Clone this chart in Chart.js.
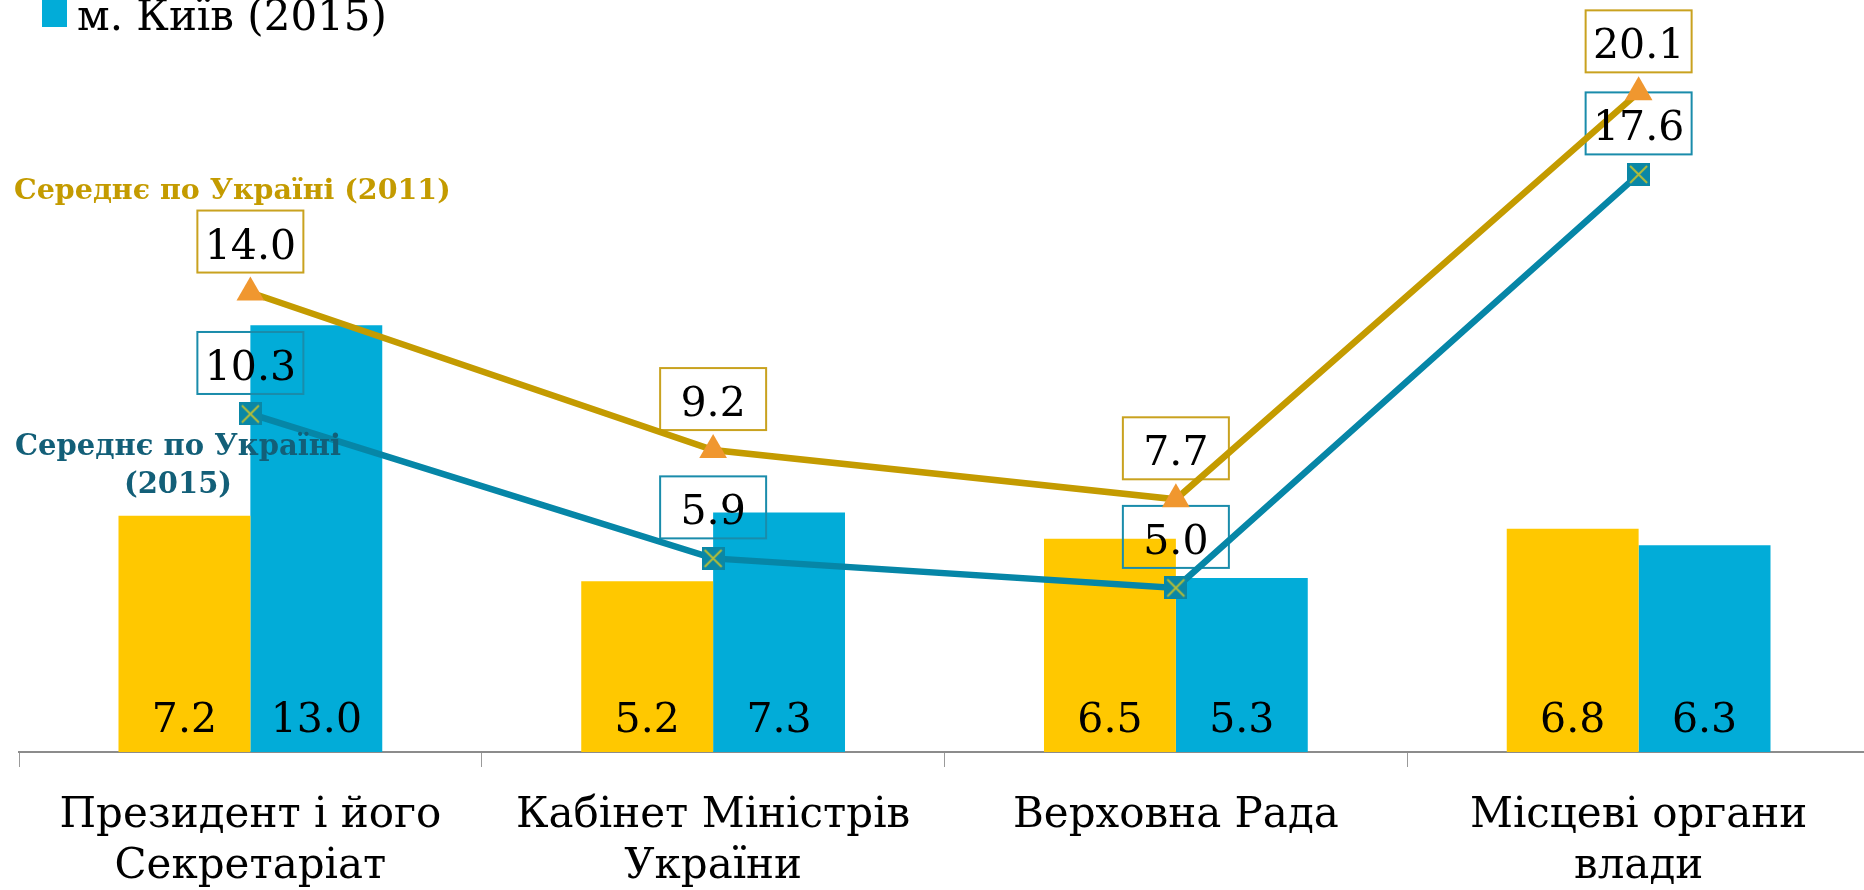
<!DOCTYPE html>
<html lang="uk">
<head>
<meta charset="utf-8">
<script src="https://cdn.jsdelivr.net/npm/chart.js@4.4.1/dist/chart.umd.min.js"></script>
<style>
  html, body { margin: 0; padding: 0; background: #fff; overflow: hidden; }
  #wrap { position: relative; width: 1872px; height: 890px; }
  #legendSw { position: absolute; left: 42px; top: 0; width: 25px; height: 27px; background: #02acd8; }
  #legendTxt { position: absolute; left: 77px; top: -9px; font: 42px "DejaVu Serif", serif; color: #000; white-space: nowrap; }
  .note { position: absolute; font: bold 29px "DejaVu Serif", serif; white-space: nowrap; }
  #note2011 { left: 14px; top: 172px; color: #c49b00; font-size: 28.5px; }
  #note2015 { left: 0; top: 426px; width: 356px; text-align: center; line-height: 38px; color: #135f78; }
</style>
</head>
<body>
<div id="wrap">
  <canvas id="chart" width="1872" height="890"></canvas>
  <div id="legendSw"></div>
  <div id="legendTxt">м. Київ (2015)</div>
  <div class="note" id="note2011">Середнє по Україні (2011)</div>
  <div class="note" id="note2015">Середнє по Україні<br>(2015)</div>
</div>
<script>
const categories = [
    ['Президент і його', 'Секретаріат'],
    ['Кабінет Міністрів', 'України'],
    ['Верховна Рада'],
    ['Місцеві органи', 'влади']
];
const kyiv2011 = [7.2, 5.2, 6.5, 6.8];
const kyiv2015 = [13.0, 7.3, 5.3, 6.3];
const ukraine2011 = [14.0, 9.2, 7.7, 20.1];
const ukraine2015 = [10.3, 5.9, 5.0, 17.6];

// square marker with a cross, like the Excel "x" marker
function crossBox(size) {
    const c = document.createElement('canvas');
    c.width = c.height = size;
    const g = c.getContext('2d');
    g.fillStyle = '#0a87a6';
    g.fillRect(0, 0, size, size);
    g.strokeStyle = '#b4bd3a';
    g.lineWidth = 2;
    g.beginPath();
    g.moveTo(3, 3); g.lineTo(size - 3, size - 3);
    g.moveTo(size - 3, 3); g.lineTo(3, size - 3);
    g.stroke();
    return c;
}

const valueLabels = {
    id: 'valueLabels',
    // boxes go after the bars but under the lines
    afterDatasetDraw(chart, args) {
        if (args.index !== 2) return;
        const ctx = chart.ctx;
        ctx.save();
        chart.data.datasets.forEach((ds, i) => {
            if (ds.type !== 'line') return;
            chart.getDatasetMeta(i).data.forEach((el) => {
                const cy = el.y - 51;
                ctx.strokeStyle = ds.boxColor;
                ctx.lineWidth = 2;
                ctx.strokeRect(el.x - 53, cy - 31, 106, 62);
            });
        });
        ctx.restore();
    },
    afterDatasetsDraw(chart) {
        const ctx = chart.ctx;
        const base = chart.scales.y.getPixelForValue(0);
        ctx.save();
        ctx.font = '41px "DejaVu Serif"';
        ctx.textAlign = 'center';
        ctx.textBaseline = 'alphabetic';
        ctx.fillStyle = '#000';
        chart.data.datasets.forEach((ds, i) => {
            const meta = chart.getDatasetMeta(i);
            meta.data.forEach((el, j) => {
                const txt = ds.data[j].toFixed(1);
                if (ds.type === 'line') {
                    ctx.fillText(txt, el.x, el.y - 51 + 17);
                } else {
                    ctx.fillText(txt, el.x, base - 20);
                }
            });
        });
        ctx.restore();
    }
};

const ctx = document.getElementById('chart').getContext('2d');
new Chart(ctx, {
    type: 'bar',
    data: {
        labels: categories,
        datasets: [
            {
                type: 'line',
                label: 'Середнє по Україні (2011)',
                data: ukraine2011,
                borderColor: '#c49b00',
                boxColor: '#c9a21f',
                borderWidth: 6.5,
                pointStyle: 'triangle',
                pointRadius: 16,
                pointBackgroundColor: '#f0972f',
                pointBorderColor: '#f0972f',
                pointBorderWidth: 0,
                order: 0
            },
            {
                type: 'line',
                label: 'Середнє по Україні (2015)',
                data: ukraine2015,
                borderColor: '#0686a7',
                boxColor: '#1a8cab',
                borderWidth: 6.5,
                pointStyle: crossBox(23),
                pointRadius: 12,
                order: 0
            },
            {
                label: 'м. Київ (2011)',
                data: kyiv2011,
                backgroundColor: '#ffc800',
                barPercentage: 1,
                categoryPercentage: 0.57,
                order: 1
            },
            {
                label: 'м. Київ (2015)',
                data: kyiv2015,
                backgroundColor: '#02acd8',
                barPercentage: 1,
                categoryPercentage: 0.57,
                order: 1
            }
        ]
    },
    options: {
        responsive: false,
        animation: false,
        layout: { autoPadding: false, padding: { top: 30, left: 19, right: 2, bottom: 0 } },
        plugins: {
            legend: { display: false },
            tooltip: { enabled: false }
        },
        scales: {
            x: {
                offset: true,
                afterFit: (scale) => {
                    scale.height = 138;
                    scale.paddingLeft = 0;
                    scale.paddingRight = 0;
                },
                border: { display: true, color: '#8c8c8c', width: 2 },
                grid: {
                    offset: true,
                    drawOnChartArea: false,
                    drawTicks: true,
                    tickLength: 15,
                    color: '#9a9a9a',
                    lineWidth: 1
                },
                ticks: {
                    color: '#000',
                    padding: 24,
                    font: { family: '"DejaVu Serif"', size: 42, lineHeight: 1.2 }
                }
            },
            y: {
                display: false,
                min: 0,
                max: 22
            }
        }
    },
    plugins: [valueLabels]
});
</script>
</body>
</html>
